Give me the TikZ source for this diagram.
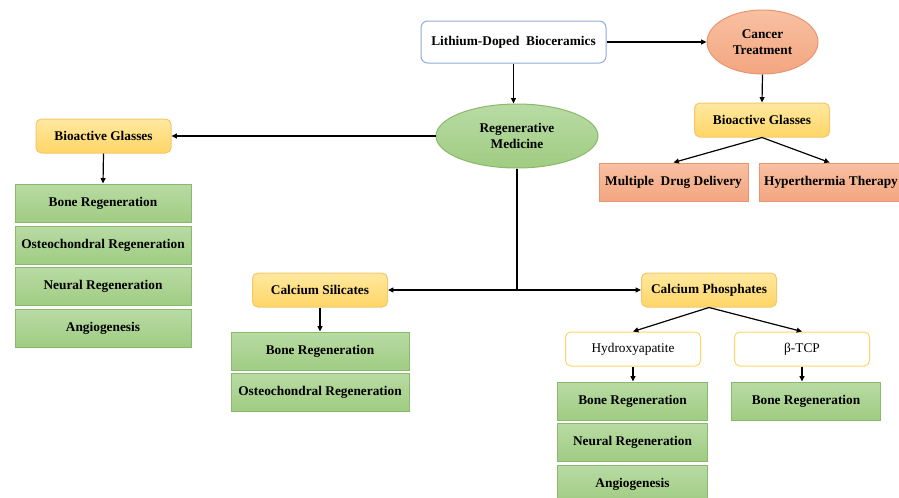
\documentclass[tikz,border=0pt]{standalone}
\usepackage{fontspec}
\setmainfont{Liberation Serif}
\usetikzlibrary{arrows.meta,shapes.geometric}

\definecolor{greenTop}{RGB}{184,219,164}
\definecolor{greenBot}{RGB}{160,204,130}
\definecolor{greenLine}{RGB}{138,184,108}
\definecolor{salmonTop}{RGB}{248,192,162}
\definecolor{salmonBot}{RGB}{243,166,128}
\definecolor{salmonLine}{RGB}{232,150,112}
\definecolor{yellowTop}{RGB}{255,232,160}
\definecolor{yellowBot}{RGB}{255,214,102}
\definecolor{yellowLine}{RGB}{246,198,110}
\definecolor{blueLine}{RGB}{143,170,220}

\tikzset{every picture/.style={line width=0.75pt}}
\tikzset{
	basebox/.style={rectangle, inner sep=1pt, align=center, font=\fontsize{10}{11}\selectfont\bfseries},
	greenbox/.style={basebox, draw=greenLine, top color=greenTop, bottom color=greenBot, minimum height=28.5pt},
	salmonbox/.style={basebox, draw=salmonLine, top color=salmonTop, bottom color=salmonBot, minimum height=28.5pt},
	yellowbox/.style={basebox, rounded corners=4pt, draw=yellowLine, top color=yellowTop, bottom color=yellowBot, minimum width=101.25pt, minimum height=25.5pt},
	whitebox/.style={basebox, rounded corners=4pt, draw=yellowBot, fill=white, minimum width=101.25pt, minimum height=25.5pt, font=\fontsize{10}{11}\selectfont},
	blob/.style={ellipse, inner sep=0pt, align=center, minimum height=48pt, font=\fontsize{10}{11.5}\selectfont\bfseries},
	link/.style={draw=black, line width=0.9pt, -{Triangle[length=4pt,width=3.6pt]}}
}

\begin{document}
\begin{tikzpicture}[x=0.75pt,y=0.75pt,yscale=-1,xscale=1]
	\useasboundingbox (0,0) rectangle (899,497);
	\clip (0,0) rectangle (899,497);
	
	% top row
	\node [basebox, rounded corners=5pt, draw=blueLine, fill=white, minimum width=138.75pt, minimum height=31.5pt] (lith) at (513.5,42) {Lithium-Doped\ \ Bioceramics};
	\node [blob, draw=salmonLine, top color=salmonTop, bottom color=salmonBot, minimum width=83.25pt] (cancer) at (762.5,42) {Cancer\\Treatment};
	\node [blob, draw=greenLine, top color=greenTop, bottom color=greenBot, minimum width=121.5pt] (regen) at (517,136) {Regenerative\\Medicine};
	
	% cancer branch
	\node [yellowbox] (glassR) at (762,120) {Bioactive Glasses};
	\node [salmonbox, minimum width=111.75pt] (drug) at (673.5,182) {Multiple\ \ Drug Delivery};
	\node [salmonbox, minimum width=108pt] (hyper) at (831,182) {Hyperthermia Therapy};
	
	% bioactive glasses branch
	\node [yellowbox] (glassL) at (103.5,136) {Bioactive Glasses};
	\node [greenbox, minimum width=132pt] (glBone) at (103,203) {Bone Regeneration};
	\node [greenbox, minimum width=132pt] (glOsteo) at (103,245) {Osteochondral Regeneration};
	\node [greenbox, minimum width=132pt] (glNeural) at (103,286.5) {Neural Regeneration};
	\node [greenbox, minimum width=132pt] (glAngio) at (103,328) {Angiogenesis};
	
	% calcium silicates branch
	\node [yellowbox] (silic) at (320,290) {Calcium Silicates};
	\node [greenbox, minimum width=133.5pt] (siBone) at (320,351) {Bone Regeneration};
	\node [greenbox, minimum width=133.5pt] (siOsteo) at (320,392) {Osteochondral Regeneration};
	
	% calcium phosphates branch
	\node [yellowbox] (phos) at (709,290) {Calcium Phosphates};
	\node [whitebox] (hap) at (633,349) {Hydroxyapatite};
	\node [whitebox] (tcp) at (802,349) {β-TCP};
	\node [greenbox, minimum width=112.5pt] (hapBone) at (632.5,401) {Bone Regeneration};
	\node [greenbox, minimum width=112.5pt] (hapNeural) at (632.5,442) {Neural Regeneration};
	\node [greenbox, minimum width=112.5pt] (hapAngio) at (632.5,484) {Angiogenesis};
	\node [greenbox, minimum width=111.75pt] (tcpBone) at (806,401) {Bone Regeneration};
	
	\coordinate (split) at (regen.south |- silic.east);
	
	% connectors
	\draw [link] (lith.east) -- (cancer.west);
	\draw [link] (lith.south) -- (lith.south |- regen.north);
	\draw [link] (cancer.south) -- (glassR.north);
	\draw [link] (glassR.south) -- (drug.north);
	\draw [link] (glassR.south) -- ([xshift=-1pt]hyper.north);
	\draw [link] (regen.west) -- (glassL.east);
	\draw [link] (glassL.south) -- (glBone.north);
	\draw [line width=0.9pt] (regen.south) -- (split);
	\draw [link] (split) -- (silic.east);
	\draw [link] (split) -- (phos.west);
	\draw [link] (silic.south) -- (siBone.north);
	\draw [link] (phos.south) -- (hap.north);
	\draw [link] (phos.south) -- (tcp.north);
	\draw [link] (hap.south) -- (hap.south |- hapBone.north);
	\draw [link] (tcp.south) -- (tcp.south |- tcpBone.north);
	
\end{tikzpicture}
\end{document}
